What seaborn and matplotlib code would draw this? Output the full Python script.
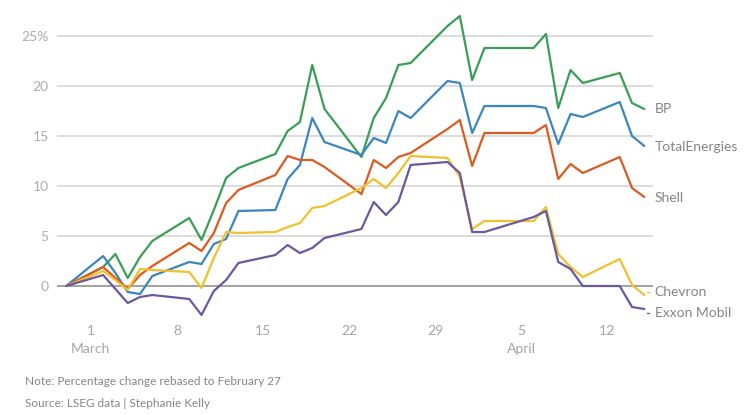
import matplotlib
matplotlib.use("Agg")
import matplotlib.pyplot as plt
import seaborn as sns
import pandas as pd

# trading days, Feb 27 - Apr 15
dates = ["2026-02-27",
         "2026-03-02", "2026-03-03", "2026-03-04", "2026-03-05", "2026-03-06",
         "2026-03-09", "2026-03-10", "2026-03-11", "2026-03-12", "2026-03-13",
         "2026-03-16", "2026-03-17", "2026-03-18", "2026-03-19", "2026-03-20",
         "2026-03-23", "2026-03-24", "2026-03-25", "2026-03-26", "2026-03-27",
         "2026-03-30", "2026-03-31", "2026-04-01", "2026-04-02",
         "2026-04-06", "2026-04-07", "2026-04-08", "2026-04-09", "2026-04-10",
         "2026-04-13", "2026-04-14", "2026-04-15"]

bp = [0, 1.9, 3.2, 0.8, 2.9, 4.5, 6.8, 4.6, 7.6, 10.8, 11.8,
      13.2, 15.5, 16.4, 22.1, 17.7, 12.9, 16.8, 18.8, 22.1, 22.3,
      26.0, 27.0, 20.6, 23.8, 23.8, 25.2, 17.8, 21.6, 20.3, 21.3, 18.3, 17.7]
total = [0, 3.0, 1.3, -0.6, -0.8, 1.0, 2.4, 2.2, 4.2, 4.7, 7.5,
         7.6, 10.7, 12.1, 16.8, 14.4, 13.1, 14.8, 14.3, 17.5, 16.8,
         20.5, 20.3, 15.3, 18.0, 18.0, 17.8, 14.2, 17.2, 16.9, 18.4, 15.0, 14.0]
shell = [0, 1.9, 0.8, -0.3, 1.1, 2.0, 4.3, 3.5, 5.3, 8.3, 9.6,
         11.1, 13.0, 12.6, 12.6, 11.9, 9.2, 12.6, 11.8, 12.9, 13.3,
         15.7, 16.6, 12.0, 15.3, 15.3, 16.1, 10.7, 12.2, 11.3, 12.9, 9.8, 8.9]
chevron = [0, 1.5, 0.6, -0.4, 1.7, 1.6, 1.4, -0.2, 2.8, 5.4, 5.3,
           5.4, 5.9, 6.3, 7.8, 8.0, 9.8, 10.7, 9.8, 11.3, 13.0,
           12.8, 10.9, 5.7, 6.5, 6.5, 7.9, 3.2, 1.9, 0.9, 2.7, 0.1, -0.9]
exxon = [0, 1.1, -0.3, -1.7, -1.1, -0.9, -1.3, -2.9, -0.5, 0.6, 2.3,
         3.1, 4.1, 3.3, 3.8, 4.8, 5.7, 8.4, 7.1, 8.4, 12.1,
         12.4, 11.3, 5.4, 5.4, 6.9, 7.5, 2.4, 1.7, 0.0, 0.0, -2.1, -2.3]

companies = ["BP", "TotalEnergies", "Shell", "Chevron", "Exxon Mobil"]
colors = {"BP": "#3a9e57", "TotalEnergies": "#3a86bd", "Shell": "#dc5a1f",
          "Chevron": "#f0c02d", "Exxon Mobil": "#6a58a0"}

df = pd.DataFrame({"date": pd.to_datetime(dates), "BP": bp, "TotalEnergies": total,
                   "Shell": shell, "Chevron": chevron, "Exxon Mobil": exxon})
long = df.melt(id_vars="date", var_name="company", value_name="change")

sns.set_style("white")
plt.rcParams["font.family"] = ["Lato", "DejaVu Sans"]

fig = plt.figure(figsize=(7.46, 4.15), dpi=100)
ax = fig.add_axes([0.0764, 0.2265, 0.799, 0.747])

ax.set_ylim(-3.5, 27.5)
for y in [5, 10, 15, 20, 25]:
    ax.axhline(y, color="#d9d9d9", lw=1.3, zorder=0)
ax.axhline(0, color="#9a9a9a", lw=1.3, zorder=1)

sns.lineplot(data=long, x="date", y="change", hue="company", hue_order=companies,
             palette=colors, lw=1.6, legend=False, ax=ax, zorder=3)

start = pd.Timestamp("2026-02-27")
end = pd.Timestamp("2026-04-15")
ax.set_xlim(start - pd.Timedelta(hours=18), end + pd.Timedelta(hours=17))

ticks = pd.to_datetime(["2026-03-01", "2026-03-08", "2026-03-15", "2026-03-22",
                        "2026-03-29", "2026-04-05", "2026-04-12"])
tick_labels = ["1\nMarch", "8", "15", "22", "29", "5\nApril", "12"]
ax.set_xticks(ticks)
ax.set_xticklabels(tick_labels, color="#a4a4a4", fontsize=10, linespacing=1.6)
ax.set_yticks([0, 5, 10, 15, 20, 25])
ax.set_yticklabels(["0", "5", "10", "15", "20", "25%"], color="#acacac", fontsize=10)
ax.tick_params(axis="both", length=0, pad=6)
ax.tick_params(axis="x", pad=3)
ax.set_xlabel("")
ax.set_ylabel("")
sns.despine(ax=ax, left=True, bottom=True)

# end labels
label_y = {"BP": 17.7, "TotalEnergies": 13.9, "Shell": 8.8,
           "Chevron": -0.6, "Exxon Mobil": -2.7}
for name in companies:
    ax.text(end + pd.Timedelta(hours=20), label_y[name], name, color="#858585",
            fontsize=10, va="center", ha="left", clip_on=False)
    if name in ("Chevron", "Exxon Mobil"):
        ax.plot([end + pd.Timedelta(hours=6), end + pd.Timedelta(hours=10)],
                [label_y[name], label_y[name]], color=colors[name], lw=1,
                clip_on=False)

fig.text(0.033, 0.08, "Note: Percentage change rebased to February 27",
         color="#858585", fontsize=8.5, va="center")
fig.text(0.033, 0.027, "Source: LSEG data | Stephanie Kelly",
         color="#858585", fontsize=8.5, va="center")

fig.savefig("out.png", dpi=100)
